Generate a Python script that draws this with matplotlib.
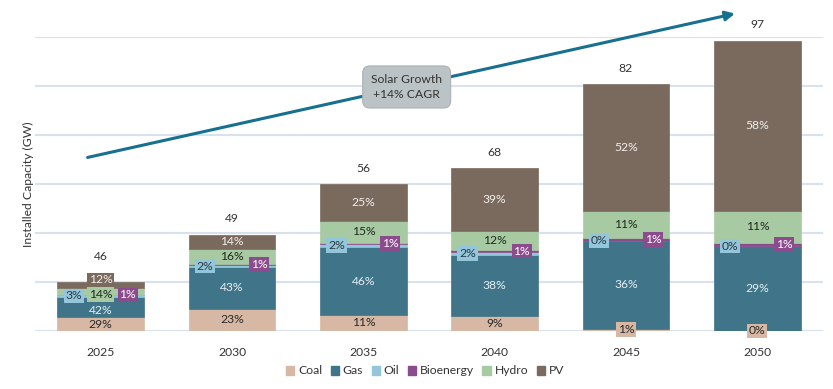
import matplotlib
matplotlib.use("Agg")
import matplotlib.pyplot as plt
from matplotlib.patches import Patch

plt.rcParams["font.family"] = ["Lato", "DejaVu Sans"]

years = ["2025", "2030", "2035", "2040", "2045", "2050"]
totals = [46, 49, 56, 68, 82, 97]
# drawn bar heights (axis units)
bar_height = [20.0, 39.2, 60.0, 66.5, 100.8, 118.4]

coal = [29, 23, 11, 9, 1, 0]
gas = [42, 43, 46, 38, 36, 29]
oil = [3, 2, 2, 2, 0, 0]
bio = [1, 1, 1, 1, 1, 1]
hydro = [14, 16, 15, 12, 11, 11]
pv = [12, 14, 25, 39, 52, 58]

series = ["Coal", "Gas", "Oil", "Bioenergy", "Hydro", "PV"]
shares = [coal, gas, oil, bio, hydro, pv]
colors = ["#d6b8a4", "#3f7489", "#93c6da", "#8c4b8c", "#a7caa3", "#7a6a5e"]
text_colors = ["#2a2a2a", "#e6eff3", "#2a3a40", "#ffffff", "#1f2a1f", "#f2eeea"]

GRID = "#d8e2ee"
ARROW = "#17708f"

fig = plt.figure(figsize=(8.33, 3.89), dpi=100)
ax = fig.add_axes([35 / 833, 1 - 331 / 389, 788 / 833, 294 / 389])

x = range(len(years))
width = 0.66

# stack segments, scaled so that each stack reaches the drawn bar height
bottoms = [0.0] * len(years)
seg_pos = {}
for s, (name, vals, col) in enumerate(zip(series, shares, colors)):
    seg = []
    for i in x:
        tot = sum(sh[i] for sh in shares)
        seg.append(bar_height[i] * vals[i] / tot)
    ax.bar(x, seg, width, bottom=bottoms, color=col, edgecolor=col, linewidth=0.5, zorder=2)
    seg_pos[name] = [(bottoms[i], seg[i]) for i in x]
    bottoms = [b + h for b, h in zip(bottoms, seg)]

# percentage labels (small nudges in px where the 2025 bar is crowded)
nudge = {("PV", 0): 5, ("Hydro", 0): -3, ("Gas", 0): -4, ("Coal", 0): -1}
for s, name in enumerate(series):
    for i in x:
        b, h = seg_pos[name][i]
        yc = b + h / 2
        if name == "Oil":
            xo, boxed = -27, True
        elif name == "Bioenergy":
            xo, boxed = 27, True
        else:
            xo, boxed = 0, h < 4
        bbox = dict(boxstyle="square,pad=0.15", fc=colors[s], ec="none") if boxed else None
        ax.annotate(f"{shares[s][i]}%", (i, yc), xytext=(xo, nudge.get((name, i), 0)),
                    textcoords="offset pixels", ha="center", va="center",
                    fontsize=8.7, color=text_colors[s], bbox=bbox, zorder=4)

# totals above bars
for i in x:
    off = 25 if i == 0 else 16
    ax.annotate(str(totals[i]), (i, bar_height[i]), xytext=(0, off), textcoords="offset pixels",
                ha="center", va="center", fontsize=8.7, color="#333333")

# solar growth arrow
ax.annotate("", xy=(4.85, 129.8), xytext=(-0.12, 70.6), annotation_clip=False,
            arrowprops=dict(arrowstyle="-|>,head_length=0.55,head_width=0.28", color=ARROW, lw=2.2))
ax.text(2.33, 99.6, "Solar Growth\n+14% CAGR", ha="center", va="center", fontsize=8.7,
        color="#333333", linespacing=1.35, zorder=5,
        bbox=dict(boxstyle="round,pad=0.7,rounding_size=0.6", fc="#bcc3c6", ec="#aab2b5", lw=0.8))

ax.set_xlim(-0.5, 5.5)
ax.set_ylim(0, 120)
ax.set_yticks(range(0, 121, 20))
ax.yaxis.grid(True, color=GRID, lw=1.5, zorder=0)
ax.set_axisbelow(True)
ax.tick_params(axis="y", left=False, labelleft=False)
ax.tick_params(axis="x", bottom=False, pad=8, labelsize=8.7, labelcolor="#333333")
ax.set_xticks(list(x))
ax.set_xticklabels(years)
for sp in ax.spines.values():
    sp.set_visible(False)

fig.text(28 / 833, 1 - 184 / 389, "Installed Capacity (GW)", rotation=90, ha="center", va="center",
         fontsize=8.7, color="#333333")

handles = [Patch(facecolor=c, edgecolor=c) for c in colors]
fig.legend(handles, series, loc="center", bbox_to_anchor=(425 / 833, 1 - 371 / 389), ncol=6,
           frameon=False, fontsize=8.7, handlelength=0.7, handleheight=0.7, handletextpad=0.3,
           columnspacing=0.7, labelcolor="#333333")

fig.savefig("out.png", dpi=100)
